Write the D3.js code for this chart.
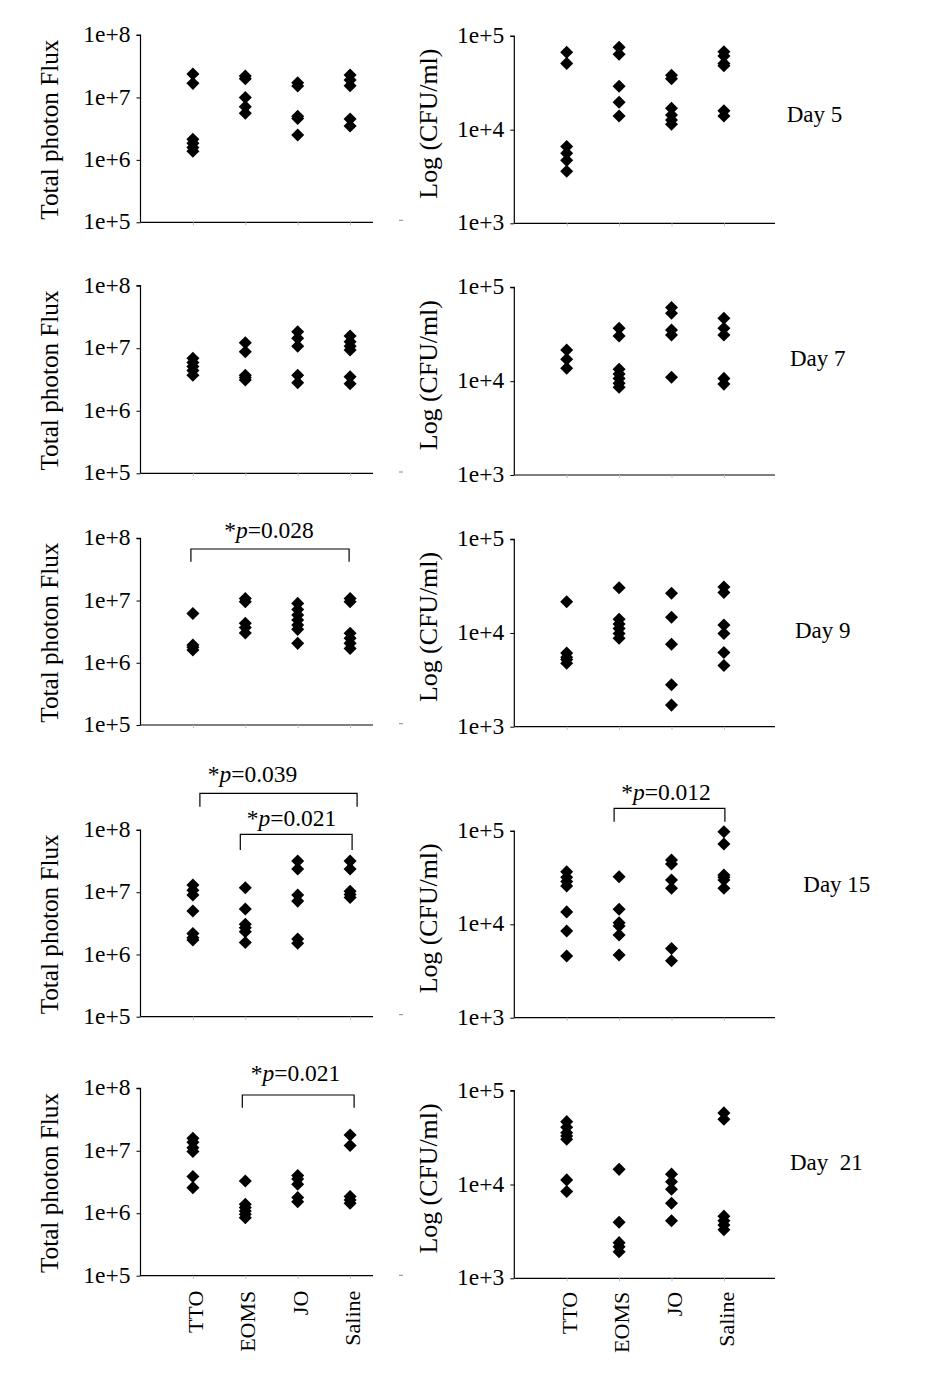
<!DOCTYPE html>
<html>
<head>
<meta charset="utf-8">
<script src="https://cdn.jsdelivr.net/npm/d3@7"></script>
<style>
  html, body { margin: 0; padding: 0; background: #fff; }
  svg { display: block; }
  text { font-family: "Liberation Serif", "Times New Roman", serif; fill: #000; }
</style>
</head>
<body>
<svg id="chart" width="945" height="1380"></svg>
<script>
// ---------------- DATA ----------------
const categories = ["TTO", "EOMS", "JO", "Saline"];
const dayLabels = ["Day 5", "Day 7", "Day 9", "Day 15", "Day\u00A0\u00A021"];
const fluxTicks = [1e5, 1e6, 1e7, 1e8];
const cfuTicks = [1e3, 1e4, 1e5];
const fluxTitle = "Total photon Flux";
const cfuTitle = "Log (CFU/ml)";

// values per category, in order TTO, EOMS, JO, Saline
const fluxDay5 = [
  [2.37e7, 1.68e7, 2.13e6, 1.84e6, 1.58e6, 1.38e6],
  [2.2e7, 2.0e7, 1.0e7, 7.1e6, 5.6e6],
  [1.72e7, 1.52e7, 5.0e6, 4.6e6, 2.5e6],
  [2.29e7, 1.9e7, 1.54e7, 4.5e6, 3.5e6]
];
const cfuDay5 = [
  [6.7e4, 5.1e4, 6.6e3, 5.6e3, 4.7e3, 3.6e3],
  [7.6e4, 6.4e4, 2.9e4, 1.96e4, 1.4e4],
  [3.8e4, 3.5e4, 1.69e4, 1.43e4, 1.27e4, 1.14e4],
  [6.8e4, 6.1e4, 5.1e4, 4.8e4, 1.59e4, 1.4e4]
];
const fluxDay7 = [
  [6.9e6, 5.9e6, 5.1e6, 4.4e6, 3.7e6],
  [1.22e7, 8.8e6, 3.7e6, 3.4e6, 3.1e6],
  [1.84e7, 1.44e7, 1.08e7, 3.7e6, 2.8e6],
  [1.57e7, 1.27e7, 1.08e7, 9.4e6, 3.5e6, 2.7e6]
];
const cfuDay7 = [
  [2.15e4, 1.71e4, 1.37e4],
  [3.66e4, 3.03e4, 1.34e4, 1.19e4, 1.07e4, 9.5e3, 8.6e3],
  [6.1e4, 5.3e4, 3.5e4, 3.1e4, 1.1e4],
  [4.68e4, 3.66e4, 3.1e4, 1.07e4, 9.3e3]
];
const fluxDay9 = [
  [6.2e6, 1.93e6, 1.77e6, 1.6e6],
  [1.08e7, 9.6e6, 4.3e6, 3.7e6, 3.0e6],
  [9.0e6, 7.2e6, 5.85e6, 4.86e6, 4.04e6, 3.44e6, 2.05e6],
  [1.08e7, 9.6e6, 2.97e6, 2.47e6, 2.05e6, 1.7e6]
];
const cfuDay9 = [
  [2.16e4, 6.1e3, 5.5e3, 5.2e3, 4.75e3],
  [3.04e4, 1.4e4, 1.25e4, 1.12e4, 9.9e3, 8.8e3],
  [2.66e4, 1.47e4, 7.6e3, 2.8e3, 1.7e3],
  [3.1e4, 2.7e4, 1.22e4, 9.9e3, 6.2e3, 4.5e3]
];
const fluxDay15 = [
  [1.31e7, 1.08e7, 9.0e6, 5.0e6, 2.18e6, 1.86e6, 1.71e6],
  [1.18e7, 5.37e6, 3.05e6, 2.69e6, 2.32e6, 1.56e6],
  [3.18e7, 2.36e7, 9.0e6, 7.2e6, 1.77e6, 1.51e6],
  [3.18e7, 2.36e7, 1.04e7, 9.2e6, 8.2e6]
];
const cfuDay15 = [
  [3.66e4, 3.19e4, 2.87e4, 2.57e4, 1.36e4, 8.5e3, 4.57e3],
  [3.24e4, 1.45e4, 1.04e4, 9.6e3, 7.7e3, 4.7e3],
  [4.89e4, 4.43e4, 2.98e4, 2.43e4, 5.5e3, 4.07e3],
  [9.8e4, 7.26e4, 3.37e4, 3.19e4, 2.98e4, 2.43e4]
];
const fluxDay21 = [
  [1.58e7, 1.37e7, 1.12e7, 9.7e6, 3.86e6, 2.57e6],
  [3.29e6, 1.39e6, 1.23e6, 1.09e6, 9.6e5, 8.5e5],
  [4.0e6, 3.54e6, 2.91e6, 1.78e6, 1.53e6],
  [1.79e7, 1.21e7, 1.85e6, 1.63e6, 1.45e6]
];
const cfuDay21 = [
  [4.68e4, 4.07e4, 3.57e4, 3.29e4, 3.03e4, 1.12e4, 8.4e3],
  [1.45e4, 3.95e3, 2.4e3, 2.17e3, 1.92e3],
  [1.29e4, 1.07e4, 8.9e3, 6.3e3, 4.1e3],
  [5.8e4, 4.95e4, 4.6e3, 4.1e3, 3.7e3, 3.3e3]
];
const fluxByDay = [fluxDay5, fluxDay7, fluxDay9, fluxDay15, fluxDay21];
const cfuByDay = [cfuDay5, cfuDay7, cfuDay9, cfuDay15, cfuDay21];

// significance: [dayIndex, fromCategory, toCategory, p-value text]
const fluxSignificance = [[2, 0, 3, "0.028"], [3, 0, 3, "0.039"], [3, 1, 3, "0.021"], [4, 1, 3, "0.021"]];
const cfuSignificance = [[3, 1, 3, "0.012"]];

// ---------------- LAYOUT ----------------
const FONT = 22;
const TICKFONT = 23.5;
const TITLEFONT = 25;
const leftLayout = { axisX: 140.5, endX: 373, range: [140.5, 402.5],
  rows: [[35, 222.3], [285.7, 473.3], [538.3, 725], [830, 1016.7], [1088.3, 1275.7]],
  titleX: 58, titleDy: 1, titleLen: 180 };
const rightLayout = { axisX: 514.3, endX: 775, range: [514.3, 776.3],
  rows: [[36, 223.3], [287.3, 475], [539.3, 726.7], [831, 1017.7], [1090.7, 1278.3]],
  titleX: 437, titleDy: -6, titleLen: 150 };
const dayPos = [[786.7, 121.7], [790, 366], [795, 638], [803.3, 891.7], [790, 1170]];
// bracket geometry: [lineY offset from panel top, dx1, dx2, tick length, label centre x, label baseline offset from line]
const fluxSigLayout = [[10.7, -2, -1, 12.7, 269, -11], [-36.7, 7, 7, 13.4, 252.5, -11.5], [4.3, -5, 2, 15.7, 291.5, -8.5], [6.7, -3, 4, 12.7, 295.5, -14]];
const cfuSigLayout = [[-22.7, -5, 1, 13.4, 666, -8.5]];

const svg = d3.select("#chart");
const diamond = d3.symbol().type(d3.symbolSquare).size(85);
const fmt = v => "1e+" + Math.round(Math.log10(v));

function drawPanel(layout, row, ticks, data, title) {
  const [top, bottom] = layout.rows[row];
  const y = d3.scaleLog().domain([ticks[0], ticks[ticks.length - 1]]).range([bottom, top]);
  const x = d3.scalePoint().domain(categories).range(layout.range).padding(1);
  const g = svg.append("g");

  // y axis
  const ya = g.append("g").attr("transform", `translate(${layout.axisX},0)`)
    .call(d3.axisLeft(y).tickValues(ticks).tickFormat(fmt).tickSize(4).tickPadding(6));
  ya.attr("font-family", null).attr("font-size", null);
  ya.select(".domain").attr("stroke", "#000").attr("stroke-width", 1.2).attr("d", `M-4,${top}H0V${bottom}`);
  ya.selectAll(".tick line").attr("stroke", "#000");
  ya.selectAll(".tick text").style("font-size", TICKFONT + "px")
    .attr("dy", "0.28em").attr("fill", "#000");

  // x axis
  const xa = g.append("g").attr("transform", `translate(0,${bottom})`)
    .call(d3.axisBottom(x).tickSize(3).tickFormat(""));
  xa.select(".domain").attr("stroke", "#000").attr("stroke-width", 1.2).attr("d", `M${layout.axisX},0H${layout.endX}`);
  xa.selectAll(".tick line").attr("stroke", "#bbb");

  // axis title
  const cy = (top + bottom) / 2 + layout.titleDy;
  g.append("text")
    .attr("transform", `translate(${layout.titleX},${cy}) rotate(-90)`)
    .attr("text-anchor", "middle")
    .style("font-size", TITLEFONT + "px")
    .attr("textLength", layout.titleLen)
    .attr("lengthAdjust", "spacingAndGlyphs")
    .text(title);

  // points
  const pts = [];
  data.forEach((vals, i) => vals.forEach(v => pts.push({ c: categories[i], v })));
  g.append("g").selectAll("path").data(pts).join("path")
    .attr("d", diamond)
    .attr("transform", d => `translate(${x(d.c)},${y(d.v)}) rotate(45)`)
    .attr("fill", "#000");

  return { x, y, top, bottom, g };
}

function drawSig(panel, sig, lay) {
  const [, from, to, p] = sig;
  const [dy, dx1, dx2, tick, cx, by] = lay;
  const ly = panel.top + dy;
  const x1 = panel.x(categories[from]) + dx1;
  const x2 = panel.x(categories[to]) + dx2;
  panel.g.append("path")
    .attr("d", `M${x1},${ly + tick}V${ly}H${x2}V${ly + tick}`)
    .attr("fill", "none").attr("stroke", "#000").attr("stroke-width", 1.2);
  const t = panel.g.append("text").attr("x", cx).attr("y", ly + by)
    .attr("text-anchor", "middle").style("font-size", (FONT + 1.5) + "px");
  t.append("tspan").text("*");
  t.append("tspan").attr("font-style", "italic").text("p");
  t.append("tspan").text("=" + p);
}

const leftPanels = [], rightPanels = [];
for (let r = 0; r < 5; r++) {
  leftPanels.push(drawPanel(leftLayout, r, fluxTicks, fluxByDay[r], fluxTitle));
  rightPanels.push(drawPanel(rightLayout, r, cfuTicks, cfuByDay[r], cfuTitle));
  svg.append("text").attr("x", dayPos[r][0]).attr("y", dayPos[r][1])
    .style("font-size", (FONT + 1) + "px").style("white-space", "pre").text(dayLabels[r]);
  // small stray dash visible left of each right-hand panel base
  svg.append("line").attr("x1", 399).attr("x2", 403)
    .attr("y1", rightLayout.rows[r][1] - 3).attr("y2", rightLayout.rows[r][1] - 3)
    .attr("stroke", "#888").attr("stroke-width", 1);
}

fluxSignificance.forEach((s, i) => drawSig(leftPanels[s[0]], s, fluxSigLayout[i]));
cfuSignificance.forEach((s, i) => drawSig(rightPanels[s[0]], s, cfuSigLayout[i]));

// category labels under the bottom row
[[leftPanels[4], 15], [rightPanels[4], 13.5]].forEach(([p, off]) => {
  p.g.append("g").selectAll("text").data(categories).join("text")
    .attr("transform", d => `translate(${p.x(d) + 10},${p.bottom + off}) rotate(-90)`)
    .attr("text-anchor", "end")
    .style("font-size", FONT + "px")
    .text(d => d);
});
</script>
</body>
</html>
